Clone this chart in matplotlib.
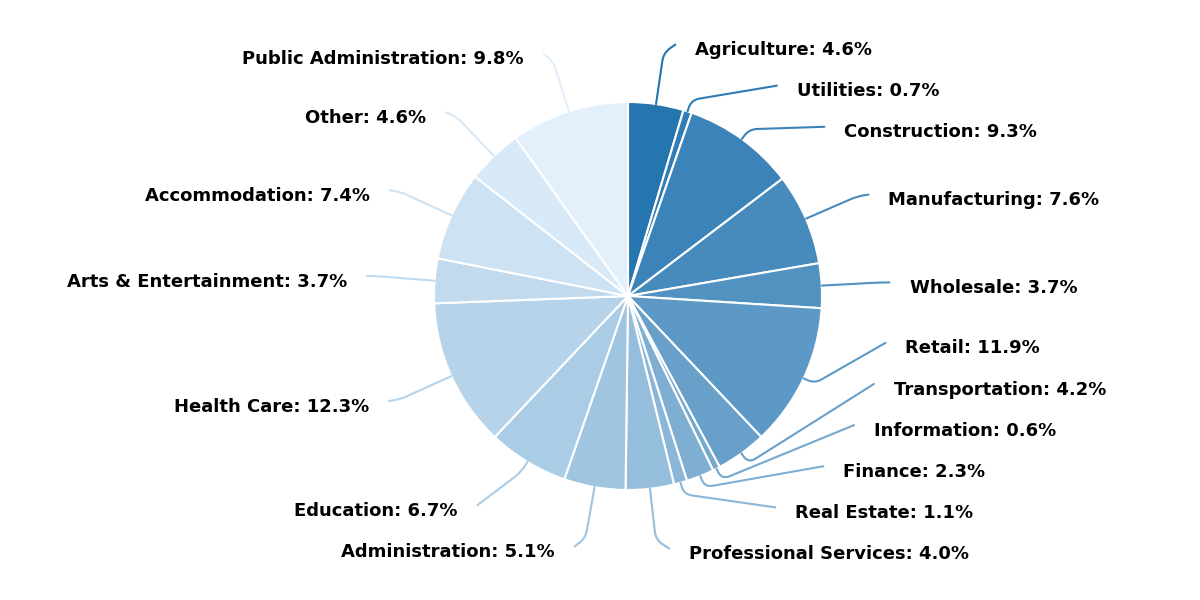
import numpy as np
import matplotlib
matplotlib.use("Agg")
import matplotlib.pyplot as plt
from matplotlib.colors import to_rgb

sectors = [
    "Agriculture", "Utilities", "Construction", "Manufacturing", "Wholesale",
    "Retail", "Transportation", "Information", "Finance", "Real Estate",
    "Professional Services", "Administration", "Education", "Health Care",
    "Arts & Entertainment", "Accommodation", "Other", "Public Administration",
]
shares = [4.6, 0.7, 9.3, 7.6, 3.7, 11.9, 4.2, 0.6, 2.3, 1.1,
          4.0, 5.1, 6.7, 12.3, 3.7, 7.4, 4.6, 9.8]

# dark blue -> very light blue, one step per sector
dark = np.array(to_rgb("#2575af"))
light = np.array(to_rgb("#e3f0fc"))
mix = np.linspace(0, 1, len(shares))
colors = [tuple(dark + t * (light - dark)) for t in mix]

fig = plt.figure(figsize=(12, 6), dpi=100)
ax = fig.add_axes([0, 0, 1, 1])

wedges, _ = ax.pie(
    shares,
    colors=colors,
    startangle=90,
    counterclock=False,
    wedgeprops=dict(edgecolor="white", linewidth=1.5),
)

angles = [(w.theta1 + w.theta2) / 2 for w in wedges]

# spread labels vertically so they do not overlap
rx, ry, ry_x, gap = 1.35, 1.31, 1.318, 0.212
label_y, moved = {}, {}
for side in (1, -1):
    idx = [i for i, a in enumerate(angles) if np.sign(np.cos(np.radians(a))) == side]
    ys = {i: ry * np.sin(np.radians(angles[i])) for i in idx}
    start = dict(ys)
    upper = sorted([i for i in idx if ys[i] >= 0], key=lambda i: -ys[i])
    lower = sorted([i for i in idx if ys[i] < 0], key=lambda i: ys[i])
    prev = None
    for i in upper:
        if prev is not None:
            ys[i] = min(ys[i], prev - gap)
        prev = ys[i]
    prev = None
    for i in lower:
        if prev is not None:
            ys[i] = max(ys[i], prev + gap)
        prev = ys[i]
    label_y.update(ys)
    moved.update({i: abs(ys[i] - start[i]) > 1e-6 for i in idx})

px_per_unit = 194.0
for i, (name, val) in enumerate(zip(sectors, shares)):
    ang = angles[i]
    ux, uy = np.cos(np.radians(ang)), np.sin(np.radians(ang))
    side = 1 if ux > 0 else -1
    ly = label_y[i]
    lx = side * rx * np.sqrt(max(0.0, 1 - (ly / ry_x) ** 2))

    # arm lengths are in pixels
    if moved[i]:
        arm = 12
    else:
        # run along the radius almost up to the label, then bend
        s = ((lx - ux) * ux + (ly - uy) * uy) * px_per_unit
        arm = max(12, s - 10)

    ax.annotate(
        "", xy=(ux, uy), xytext=(lx, ly),
        arrowprops=dict(
            arrowstyle="-", color=colors[i], lw=1.5, shrinkA=0, shrinkB=0,
            connectionstyle=f"arc,angleA=0,armA=0,angleB={ang},armB={arm:.1f},rad=8",
        ),
    )
    ax.annotate(
        f"{name}: {val}%", xy=(lx, ly), xytext=(side * 14.4, -4.0),
        textcoords="offset points", ha="left" if side > 0 else "right",
        va="center", fontsize=13, fontweight="bold",
    )

ax.set_xlim(-628 / 194, 572 / 194)
ax.set_ylim(-304 / 194, 296 / 194)
ax.set_aspect("equal")
ax.axis("off")

fig.savefig("out.png", dpi=100)
